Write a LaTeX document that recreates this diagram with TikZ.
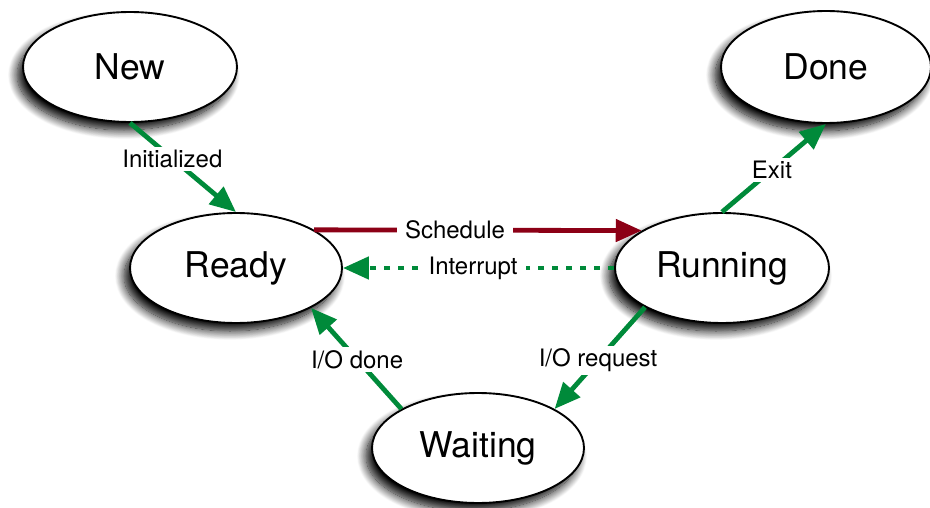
\documentclass[tikz,border=0pt]{standalone}
\usepackage{fontspec}
\setmainfont{TeX Gyre Heros}
\usetikzlibrary{shapes.geometric,arrows.meta,shadows.blur}
\definecolor{flowgreen}{RGB}{0,138,58}
\definecolor{flowred}{RGB}{140,0,22}

\begin{document}
\begin{tikzpicture}[x=1pt,y=-1pt,
  state/.style={ellipse, draw=black, line width=1.9pt, fill=white,
    minimum width=214pt, minimum height=110pt, inner sep=0pt,
    font=\fontsize{35.5}{40}\selectfont,
    blur shadow={shadow xshift=-6pt, shadow yshift=-8pt,
      shadow blur radius=9pt, shadow blur steps=14, shadow opacity=100}},
  trans/.style={line width=4.8pt, -{Triangle[length=26pt,width=22pt]}},
  lbl/.style={fill=white, text=black, font=\fontsize{24}{28}\selectfont,
    inner xsep=8pt, inner ysep=3pt}
]
\useasboundingbox (0,0) rectangle (930,508);

% process states
\node[state] (new)     at (130,67)  {New};
\node[state, minimum width=210pt, minimum height=112pt] (done) at (826,67) {Done};
\node[state, minimum width=212pt] (ready)   at (236,268) {Ready};
\node[state] (running) at (722,268) {Running};
\node[state, minimum width=212pt] (waiting) at (478,448) {Waiting};

% transitions
\draw[trans, flowgreen] (new.south) -- node[lbl, pos=0.4] {Initialized} (ready.north);
\draw[trans, flowred] (ready.26) -- node[lbl, pos=0.43] {Schedule} (running.155);
\draw[trans, flowgreen, dash pattern=on 6pt off 8pt] (running.west) -- node[lbl, pos=0.52] {Interrupt} (ready.east);
\draw[trans, flowgreen] (running.north) -- node[lbl, pos=0.48] {Exit} (done.south);
\draw[trans, flowgreen] (running.207.5) -- node[lbl, pos=0.52] {I/O request} (waiting.27.5);
\draw[trans, flowgreen] (waiting.153) -- node[lbl, pos=0.49] {I/O done} (ready.332);
\end{tikzpicture}
\end{document}
